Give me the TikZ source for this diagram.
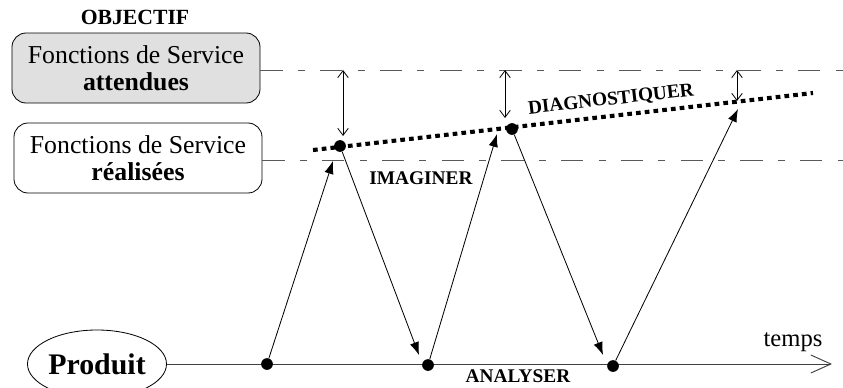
\documentclass[tikz,border=0pt]{standalone}
\usepackage{fontspec}
\setmainfont{Liberation Serif}
\usetikzlibrary{arrows.meta,shapes.geometric}

\tikzset{
  fbox/.style={draw,rounded corners=12pt,line width=0.7pt,minimum width=7.44cm,minimum height=2.1cm,align=center,inner sep=0pt,font=\fontsize{22}{23}\selectfont},
  guide/.style={black!65,line width=0.8pt,dash pattern=on 19pt off 13pt on 6pt off 13pt},
  flow/.style={line width=0.7pt,-{Latex[length=11pt,width=8pt]}},
  gap/.style={line width=0.7pt,{Straight Barb[length=6pt,width=9pt]}-{Straight Barb[length=6pt,width=9pt]}},
  dot/.style={circle,fill,inner sep=0pt,minimum size=10pt},
  lab/.style={font=\fontsize{16.5}{18}\selectfont\bfseries}
}

\begin{document}
\begin{tikzpicture}[x=0.03cm,y=-0.03cm]
\useasboundingbox (0,0) rectangle (843,387);

\node[fbox,fill=black!12] (att) at (136,68) {Fonctions de Service\\\textbf{attendues}};
\node[fbox] (rea) at (138,158) {Fonctions de Service\\\textbf{réalisées}};
\node[lab,font=\fontsize{18.5}{20}\selectfont\bfseries] (obj) at (135,17) {OBJECTIF};

\coordinate (hautD) at (843,70);
\coordinate (basD) at (843,160);
\draw[guide] (att.east |- hautD) -- (hautD);
\draw[guide] (rea.east |- basD) -- (basD);

\node[draw,ellipse,line width=0.7pt,minimum width=4.17cm,minimum height=2.04cm,inner sep=0pt,font=\fontsize{25.5}{27}\selectfont\bfseries] (prod) at (97,364) {Produit};
\coordinate (fin) at (832,364);
\draw[black!75,line width=0.8pt,-{Straight Barb[length=0.6cm,width=0.54cm]}] (prod.east) -- (fin);
\node[font=\fontsize{21}{23}\selectfont] (temps) at (793,342) {temps};

\coordinate (dg) at (313,150);
\coordinate (dd) at (813,93);
\draw[line width=3.5pt,dash pattern=on 4pt off 3.5pt] (dg) -- (dd);

\node[dot] (a1) at (267,364) {};
\node[dot] (a2) at (428,365) {};
\node[dot] (a3) at (613,366) {};
\node[dot] (s1) at (340,146) {};
\node[dot] (s2) at (512,129) {};

\coordinate (t1) at (333,161);
\coordinate (t2) at (419,355);
\coordinate (t3) at (497,134);
\coordinate (t4) at (603,355);
\coordinate (t5) at (738,109);
\draw[flow] (a1) -- (t1);
\draw[flow] (s1) -- (t2);
\draw[flow] (a2) -- (t3);
\draw[flow] (s2) -- (t4);
\draw[flow] (a3) -- (t5);

\coordinate (e1h) at (343,70);
\coordinate (e1b) at (343,136);
\coordinate (e2h) at (505,70);
\coordinate (e2b) at (505,118);
\coordinate (e3h) at (737,70);
\coordinate (e3b) at (737,101);
\draw[gap] (e1h) -- (e1b);
\draw[gap] (e2h) -- (e2b);
\draw[gap] (e3h) -- (e3b);

\node[lab] (imag) at (421,178) {IMAGINER};
\node[lab] (anal) at (518,376) {ANALYSER};
\node[lab,rotate=6.4] (diag) at (611,100) {DIAGNOSTIQUER};
\end{tikzpicture}
\end{document}
